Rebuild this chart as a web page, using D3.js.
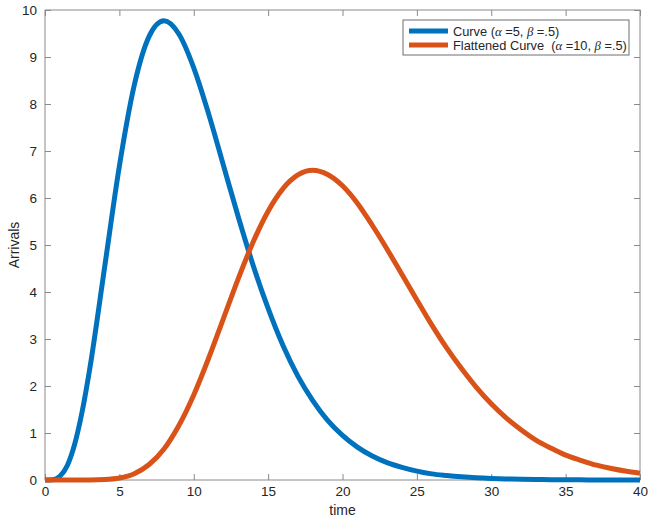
<!DOCTYPE html>
<html>
<head>
<meta charset="utf-8">
<script src="https://cdn.jsdelivr.net/npm/d3@7"></script>
<style>
  html, body { margin: 0; padding: 0; background: #fff; overflow: hidden; }
  svg { display: block; font-family: "Liberation Sans", Arial, sans-serif; }
</style>
</head>
<body>
<div id="chart"></div>
<script>
// values
const times = [0, 0.5, 1, 1.5, 2, 2.5, 3, 4, 5, 6, 7, 8, 9, 10,
  11, 12, 13, 14, 15, 16, 17, 18, 19, 20,
  21, 22, 23, 24, 25, 26, 27, 28, 29, 30,
  31, 32, 33, 34, 35, 36, 37, 38, 39, 40];
const curve = [0, 0.006, 0.08, 0.31, 0.77, 1.46, 2.35, 4.51, 6.68, 8.40, 9.44, 9.77, 9.49, 8.77,
  7.79, 6.69, 5.59, 4.56, 3.65, 2.86, 2.21, 1.69, 1.27, 0.95,
  0.70, 0.51, 0.37, 0.27, 0.19, 0.13, 0.095, 0.067, 0.046, 0.032,
  0.023, 0.015, 0.011, 0.007, 0.005, 0.003, 0.002, 0.0015, 0.001, 0.0007];
const flattened = [0, 0, 0, 0, 0.0001, 0.0003, 0.001, 0.01, 0.043, 0.135, 0.33, 0.66, 1.16, 1.81,
  2.59, 3.44, 4.29, 5.07, 5.72, 6.20, 6.49, 6.59, 6.50, 6.26,
  5.89, 5.42, 4.91, 4.37, 3.83, 3.30, 2.81, 2.37, 1.97, 1.62,
  1.32, 1.07, 0.85, 0.68, 0.53, 0.42, 0.32, 0.25, 0.19, 0.145];
const xTicks = [0, 5, 10, 15, 20, 25, 30, 35, 40];
const yTicks = [0, 1, 2, 3, 4, 5, 6, 7, 8, 9, 10];
const legendLabels = [
  ["Curve (", "α", " =5, ", "β", " =.5)"],
  ["Flattened Curve  (", "α", " =10, ", "β", " =.5)"]
];
const colors = ["#0072BD", "#D95319"];

const width = 653, height = 522;
const margin = {top: 10, right: 13, bottom: 42, left: 45};
const innerWidth = width - margin.left - margin.right,
  innerHeight = height - margin.top - margin.bottom;

const svg = d3.select("#chart").append("svg")
  .attr("width", width)
  .attr("height", height);

const g = svg.append("g")
  .attr("transform", "translate(" + margin.left + "," + margin.top + ")");

const xScale = d3.scaleLinear().domain([0, 40]).range([0, innerWidth]);
const yScale = d3.scaleLinear().domain([0, 10]).range([innerHeight, 0]);

const boxColor = "#8a8a8a", textColor = "#262626";

function styleAxis(sel, showText) {
  sel.select(".domain").remove();
  sel.selectAll(".tick line").attr("stroke", boxColor).attr("stroke-width", 1);
  if (!showText) {
    sel.selectAll(".tick text").remove();
    return;
  }
  sel.selectAll(".tick text")
    .attr("fill", textColor)
    .style("font-size", "13.5px");
}

// ticks point inward on all four sides
g.append("g").attr("transform", "translate(0," + innerHeight + ")")
  .call(d3.axisBottom(xScale).tickValues(xTicks).tickSizeInner(-6).tickPadding(6))
  .call(s => styleAxis(s, true));
g.append("g")
  .call(d3.axisTop(xScale).tickValues(xTicks).tickSizeInner(-6))
  .call(s => styleAxis(s, false));
g.append("g")
  .call(d3.axisLeft(yScale).tickValues(yTicks).tickSizeInner(-6).tickPadding(8))
  .call(s => styleAxis(s, true));
g.append("g").attr("transform", "translate(" + innerWidth + ",0)")
  .call(d3.axisRight(yScale).tickValues(yTicks).tickSizeInner(-6))
  .call(s => styleAxis(s, false));

g.append("rect")
  .attr("width", innerWidth)
  .attr("height", innerHeight)
  .attr("fill", "none")
  .attr("stroke", boxColor)
  .attr("stroke-width", 1);

const line = d3.line()
  .x((d, i) => xScale(times[i]))
  .y(d => yScale(d))
  .curve(d3.curveMonotoneX);

g.selectAll(".series")
  .data([curve, flattened])
  .enter().append("path")
    .attr("class", "series")
    .attr("d", line)
    .attr("fill", "none")
    .attr("stroke", (d, i) => colors[i])
    .attr("stroke-width", 5)
    .attr("stroke-linejoin", "round");

// axis labels
svg.append("text")
  .attr("x", margin.left + innerWidth / 2)
  .attr("y", 515)
  .attr("text-anchor", "middle")
  .attr("fill", textColor)
  .style("font-size", "14px")
  .text("time");

svg.append("text")
  .attr("transform", "translate(19," + (margin.top + innerHeight / 2) + ") rotate(-90)")
  .attr("text-anchor", "middle")
  .attr("fill", textColor)
  .style("font-size", "14px")
  .text("Arrivals");

// legend
const legend = svg.append("g").attr("transform", "translate(403,20)");
legend.append("rect")
  .attr("width", 226)
  .attr("height", 35)
  .attr("fill", "#fff")
  .attr("stroke", "#6e6e6e")
  .attr("stroke-width", 1);

legendLabels.forEach((parts, i) => {
  const y = 11 + i * 14;
  legend.append("line")
    .attr("x1", 6).attr("x2", 45)
    .attr("y1", y).attr("y2", y)
    .attr("stroke", colors[i])
    .attr("stroke-width", 5);
  const t = legend.append("text")
    .attr("x", 50)
    .attr("y", y + 4.5)
    .attr("fill", textColor)
    .style("font-size", "12.8px")
    .attr("xml:space", "preserve")
    .style("white-space", "pre");
  parts.forEach((p, j) => {
    t.append("tspan")
      .style("font-style", j % 2 === 1 ? "italic" : "normal")
      .style("font-family", j % 2 === 1 ? "'Liberation Serif', serif" : null)
      .text(p);
  });
});
</script>
</body>
</html>
